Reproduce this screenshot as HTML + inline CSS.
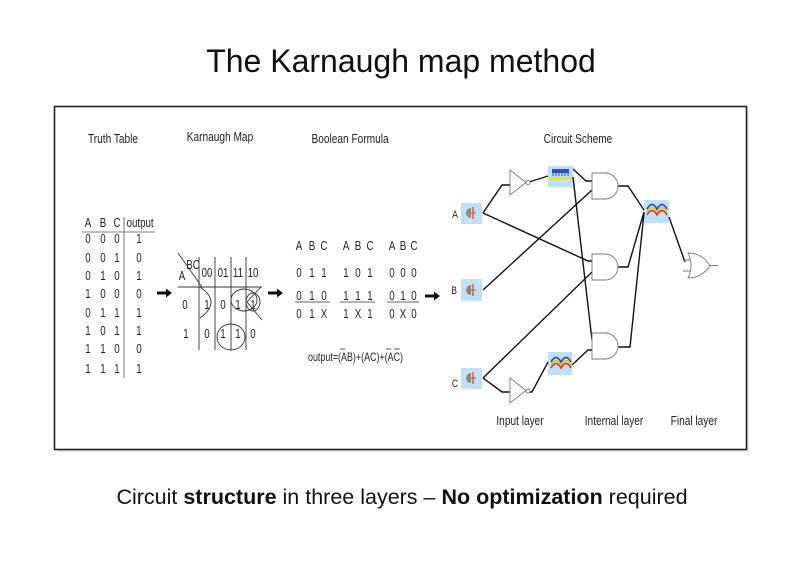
<!DOCTYPE html>
<html><head><meta charset="utf-8"><style>
html,body{margin:0;padding:0;background:#fff;}
body{width:800px;height:566px;overflow:hidden;}
svg text{font-family:"Liberation Sans",sans-serif;fill:#222;}
.d text{transform-box:fill-box;transform-origin:center;transform:scaleX(0.78);}
</style></head><body>
<svg width="800" height="566" viewBox="0 0 800 566" xmlns="http://www.w3.org/2000/svg">
<text x="401" y="72" text-anchor="middle" style="font-size:32px;fill:#111">The Karnaugh map method</text>
<text x="402" y="504" text-anchor="middle" style="font-size:21.5px;fill:#111">Circuit <tspan font-weight="bold">structure</tspan> in three layers – <tspan font-weight="bold">No optimization</tspan> required</text>
<rect x="57" y="109" width="692" height="343" fill="#e8e8e8"/>
<rect x="54.5" y="106.5" width="692" height="343" fill="#fff" stroke="#222" stroke-width="1.6"/>

<g class="d">
<g font-size="13" text-anchor="middle">
<text x="113" y="143">Truth Table</text>
<text x="220" y="141">Karnaugh Map</text>
<text x="350" y="143">Boolean Formula</text>
<text x="578" y="143">Circuit Scheme</text>
<text x="520" y="425">Input layer</text>
<text x="614" y="425">Internal layer</text>
<text x="694" y="425">Final layer</text>
</g>

<g font-size="12.5" text-anchor="middle">
<text x="88" y="227">A</text><text x="103" y="227">B</text><text x="117" y="227">C</text><text x="140" y="227">output</text>
<text x="88" y="243">0</text><text x="103" y="243">0</text><text x="117" y="243">0</text><text x="139" y="243">1</text>
<text x="88" y="262">0</text><text x="103" y="262">0</text><text x="117" y="262">1</text><text x="139" y="262">0</text>
<text x="88" y="280">0</text><text x="103" y="280">1</text><text x="117" y="280">0</text><text x="139" y="280">1</text>
<text x="88" y="298">1</text><text x="103" y="298">0</text><text x="117" y="298">0</text><text x="139" y="298">0</text>
<text x="88" y="317">0</text><text x="103" y="317">1</text><text x="117" y="317">1</text><text x="139" y="317">1</text>
<text x="88" y="335">1</text><text x="103" y="335">0</text><text x="117" y="335">1</text><text x="139" y="335">1</text>
<text x="88" y="353">1</text><text x="103" y="353">1</text><text x="117" y="353">0</text><text x="139" y="353">0</text>
<text x="88" y="373">1</text><text x="103" y="373">1</text><text x="117" y="373">1</text><text x="139" y="373">1</text>
</g>

<g font-size="12.5" text-anchor="middle">
<text x="193" y="269">BC</text><text x="182" y="280">A</text>
<text x="207" y="277">00</text><text x="223" y="277">01</text><text x="238" y="277">11</text><text x="253" y="277">10</text>
<text x="185" y="309">0</text><text x="207" y="309">1</text><text x="223" y="309">0</text><text x="238" y="309">1</text><text x="253" y="309">1</text>
<text x="186" y="338">1</text><text x="207" y="338">0</text><text x="223" y="338">1</text><text x="238" y="338">1</text><text x="253" y="338">0</text>
</g>

<g font-size="12.5" text-anchor="middle">
<text x="299" y="250">A</text><text x="312" y="250">B</text><text x="324" y="250">C</text>
<text x="299" y="277">0</text><text x="312" y="277">1</text><text x="324" y="277">1</text>
<text x="299" y="300">0</text><text x="312" y="300">1</text><text x="324" y="300">0</text>
<text x="299" y="318">0</text><text x="312" y="318">1</text><text x="324" y="318">X</text>
<text x="346" y="250">A</text><text x="358" y="250">B</text><text x="370" y="250">C</text>
<text x="346" y="277">1</text><text x="358" y="277">0</text><text x="370" y="277">1</text>
<text x="346" y="300">1</text><text x="358" y="300">1</text><text x="370" y="300">1</text>
<text x="346" y="318">1</text><text x="358" y="318">X</text><text x="370" y="318">1</text>
<text x="392" y="250">A</text><text x="403" y="250">B</text><text x="414" y="250">C</text>
<text x="392" y="277">0</text><text x="403" y="277">0</text><text x="414" y="277">0</text>
<text x="392" y="300">0</text><text x="403" y="300">1</text><text x="414" y="300">0</text>
<text x="392" y="318">0</text><text x="403" y="318">X</text><text x="414" y="318">0</text>
</g>
</g>
<text x="308" y="361" font-size="12" textLength="95" lengthAdjust="spacingAndGlyphs">output=(AB)+(AC)+(AC)</text>

<line x1="124" y1="217" x2="124" y2="378" stroke="#555" stroke-width="0.8"/>
<line x1="82" y1="232" x2="155" y2="232" stroke="#555" stroke-width="0.8"/>

<g fill="#111">
<path d="M157 291.5h9v-3l6 4.5-6 4.5v-3h-9z"/>
<path d="M268 291.5h9v-3l6 4.5-6 4.5v-3h-9z"/>
<path d="M425 294.5h9v-3l6 4.5-6 4.5v-3h-9z"/>
</g>

<g stroke="#333" stroke-width="0.9" fill="none">
<line x1="178" y1="253" x2="202" y2="287"/>
<line x1="178" y1="287" x2="262" y2="287"/>
<line x1="199" y1="257" x2="199" y2="350"/>
<line x1="215" y1="257" x2="215" y2="350"/>
<line x1="231" y1="257" x2="231" y2="350"/>
<line x1="246" y1="257" x2="246" y2="350"/>
<path d="M200 287 Q222 302 200 318"/>
<ellipse cx="244" cy="300" rx="13" ry="11"/>
<ellipse cx="253" cy="302" rx="7" ry="9"/>
<path d="M261 287 L247 302 L262 320"/>
<ellipse cx="231" cy="337" rx="14" ry="13"/>
</g>

<g stroke="#333" stroke-width="0.8">
<line x1="295" y1="302" x2="330" y2="302"/>
<line x1="340" y1="302" x2="375" y2="302"/>
<line x1="387" y1="302" x2="419" y2="302"/>
<line x1="340" y1="349" x2="345" y2="349"/>
<line x1="386" y1="349" x2="391" y2="349"/>
<line x1="394" y1="349" x2="400" y2="349"/>
</g>

<g fill="#bfe0f7">
<rect x="461" y="203" width="21" height="21"/>
<rect x="461" y="279" width="21" height="22"/>
<rect x="461" y="368" width="21" height="21"/>
<rect x="548" y="166" width="25" height="21"/>
<rect x="644" y="200" width="25" height="23"/>
<rect x="548" y="352" width="24" height="23"/>
</g>
<g>
<path d="M471 208 a5 5 0 0 0 0 10z" fill="#888"/><line x1="473" y1="207" x2="473" y2="219" stroke="#e05010" stroke-width="1.3"/><line x1="471" y1="213" x2="476" y2="213" stroke="#e05010"/>
<path d="M471 285 a5 5 0 0 0 0 10z" fill="#888"/><line x1="473" y1="284" x2="473" y2="296" stroke="#e05010" stroke-width="1.3"/><line x1="471" y1="290" x2="476" y2="290" stroke="#e05010"/>
<path d="M471 373 a5 5 0 0 0 0 10z" fill="#888"/><line x1="473" y1="372" x2="473" y2="384" stroke="#e05010" stroke-width="1.3"/><line x1="471" y1="378" x2="476" y2="378" stroke="#e05010"/>
<rect x="552" y="169" width="17" height="4" fill="#2a50d0"/>
<path d="M553 173v3M556 173v3M559 173v3M562 173v3M565 173v3M568 173v3" stroke="#2a50d0"/>
<rect x="548" y="177" width="25" height="3" fill="#f5e800"/>
</g>
<g fill="none" stroke-width="1.5">
<path d="M647 215 q5 -9 10 0 q5 -9 10 0" stroke="#e03010"/>
<path d="M647 212 q5 -9 10 0 q5 -9 10 0" stroke="#f0c000"/>
<path d="M647 209 q5 -9 10 0 q5 -9 10 0" stroke="#2040c0"/>
<path d="M551 368 q5 -9 10 0 q5 -9 10 0" stroke="#e03010"/>
<path d="M551 365 q5 -9 10 0 q5 -9 10 0" stroke="#f0c000"/>
<path d="M551 362 q5 -9 10 0 q5 -9 10 0" stroke="#2040c0"/>
</g>
<g class="d" font-size="11" text-anchor="middle">
<text x="455" y="218">A</text><text x="454" y="294">B</text><text x="455" y="387">C</text>
</g>
<g stroke="#111" stroke-width="1.4" fill="none">
<path d="M483 213 L502 185 L510 185"/>
<path d="M483 213 L588 261 L592 261"/>
<path d="M529 182 L548 176"/>
<path d="M573 169 L586 181 L592 181"/>
<path d="M483 290 L592 190"/>
<path d="M573 177 L592 340"/>
<path d="M483 378 L592 272"/>
<path d="M483 378 L502 392 L510 392"/>
<path d="M529 392 L532 392 L548 362"/>
<path d="M572 365 L588 350 L592 350"/>
<path d="M618 186 L628 186 L644 210"/>
<path d="M618 267 L628 267 L644 212"/>
<path d="M618 347 L630 347 L644 213"/>
<path d="M669 217 L685 262"/>
</g>
<g stroke="#777" stroke-width="0.9" fill="#fff">
<path d="M510 170 L510 195 L526 182.5 Z"/><circle cx="528" cy="182.5" r="2"/>
<path d="M510 378 L510 403 L526 390.5 Z"/><circle cx="528" cy="391" r="2"/>
<path d="M605 173 h-13 v26 h13 a13 13 0 0 0 0 -26z"/>
<path d="M605 254 h-13 v26 h13 a13 13 0 0 0 0 -26z"/>
<path d="M605 333 h-13 v26 h13 a13 13 0 0 0 0 -26z"/>
<path d="M688 253 q6 12 0 25 q14 0 22 -12.5 q-8 -12.5 -22 -12.5z"/>
<path d="M710 265.5 h8 M683 260 h7 M683 271 h7" fill="none"/>
</g>
</svg>
</body></html>
